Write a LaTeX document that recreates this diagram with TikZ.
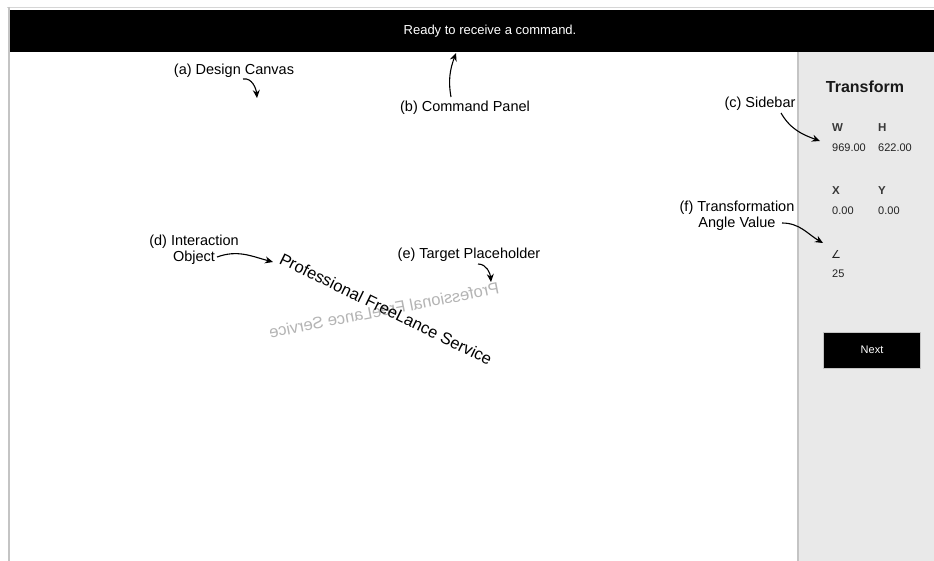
\documentclass[tikz,border=0pt]{standalone}
\usepackage{fontspec}
\setmainfont{Liberation Sans}
\newfontfamily\symfont{DejaVu Sans}
\usetikzlibrary{arrows.meta}
\definecolor{sidegray}{HTML}{E9E9E9}
\definecolor{edgegray}{HTML}{C4C4C4}
\definecolor{uitext}{HTML}{222222}
\definecolor{ghost}{HTML}{B4B4B4}
\begin{document}
\begin{tikzpicture}[x=1pt,y=1pt,
  lbl/.style={font=\fontsize{14.5}{15.5}\selectfont, inner sep=0pt, text=black},
  ui/.style={font=\fontsize{11}{13}\selectfont, inner sep=0pt, text=uitext, anchor=west},
  uihead/.style={ui, font=\fontsize{11.5}{13}\selectfont\bfseries, text=uitext!90},
  callout/.style={-{Stealth[length=8pt,width=7pt]}, line width=1.1pt, black},
  objtext/.style={font=\fontsize{16.5}{18}\selectfont, inner sep=0pt},
]
\useasboundingbox (0,0) rectangle (934,-561);
\fill[white] (0,0) rectangle (934,-561);
% window frame
\draw[edgegray!70, line width=1pt] (7,-7.5) -- (934,-7.5);
\draw[edgegray, line width=2pt] (8.5,-7) -- (8.5,-561);
% command bar
\node[fill=black, inner sep=0pt, minimum width=924pt, minimum height=42pt, anchor=north west] (bar) at (10,-10) {};
\node[font=\fontsize{13}{15}\selectfont, text=white, inner sep=0pt] (status) at (490,-31) {Ready to receive a command.};
% sidebar
\node[fill=sidegray, inner sep=0pt, minimum width=136pt, minimum height=509pt, anchor=north west] (side) at (798,-52) {};
\draw[edgegray, line width=2pt] (798,-52) -- (798,-561);
\node[font=\fontsize{16}{18}\selectfont\bfseries, text=black!90, inner sep=0pt] (title) at (865,-87) {Transform};
\node[uihead] (w) at (832,-128) {W};
\node[uihead] (h) at (878,-128) {H};
\node[ui] (wv) at (832,-148) {969.00};
\node[ui] (hv) at (878,-148) {622.00};
\node[uihead] (x) at (832,-191) {X};
\node[uihead] (y) at (878,-191) {Y};
\node[ui] (xv) at (832,-211) {0.00};
\node[ui] (yv) at (878,-211) {0.00};
\node[ui, font=\symfont\fontsize{11}{13}\selectfont] (ang) at (831,-254) {∠};
\node[ui] (angv) at (832,-274) {25};
\node[fill=black, draw=edgegray, line width=0.8pt, minimum width=97pt, minimum height=36pt, inner sep=0pt,
      font=\fontsize{11}{12}\selectfont, text=white] (next) at (872,-350) {Next};
% object texts
\node[objtext, text=ghost, rotate=11, xscale=-1] (ghosttext) at (384,-310) {Professional FreeLance Service};
\node[objtext, text=black, rotate=-26] (obj) at (386,-309) {Professional FreeLance Service};
% labels
\node[lbl] (la) at (234,-71) {(a) Design Canvas};
\node[lbl] (lb) at (465,-108) {(b) Command Panel};
\node[lbl] (lc) at (760,-104) {(c) Sidebar};
\node[lbl, align=center] (ld) at (194,-250) {(d) Interaction\\Object};
\node[lbl] (le) at (469,-255) {(e) Target Placeholder};
\node[lbl, align=center] (lf) at (737,-216) {(f) Transformation\\Angle Value};
% arrow ends
\coordinate (sa) at (243,-79);  \coordinate (ta) at (257,-98);
\coordinate (sb) at (451,-97);  \coordinate (tb) at (456,-53);
\coordinate (sc) at (781,-113); \coordinate (tc) at (820,-141);
\coordinate (sd) at (217,-257); \coordinate (td) at (273,-262);
\coordinate (se) at (478,-264); \coordinate (te) at (491,-282);
\coordinate (sf) at (782,-223); \coordinate (tf) at (823,-243);
\draw[callout] (sa) to[out=10, in=95] (ta);
\draw[callout] (sb) to[out=100, in=-110] (tb);
\draw[callout] (sc) to[out=-60, in=160] (tc);
\draw[callout] (sd) to[out=20, in=165] (td);
\draw[callout] (se) to[out=0, in=95] (te);
\draw[callout] (sf) to[out=0, in=150] (tf);
\end{tikzpicture}
\end{document}
